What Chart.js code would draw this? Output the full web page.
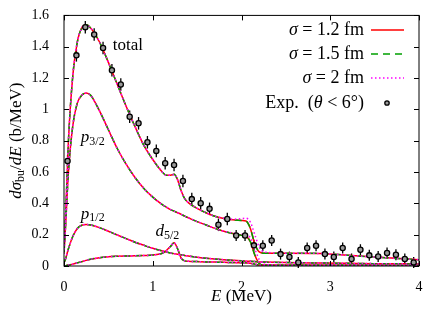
<!DOCTYPE html>
<html>
<head>
<meta charset="utf-8">
<script src="https://cdn.jsdelivr.net/npm/chart.js@4"></script>
<style>
  body { margin: 0; background: #fff; }
  #wrap { width: 436px; height: 309px; }
</style>
</head>
<body>
<div id="wrap"><canvas id="bu-chart"></canvas></div>
<script>
// energy grid of the calculated curves (MeV)
const energy = [0, 0.02, 0.05, 0.1, 0.15, 0.2, 0.25, 0.3, 0.4, 0.5, 0.6, 0.7, 0.8, 0.9, 1.0, 1.1, 1.15, 1.2, 1.24, 1.28, 1.32, 1.36, 1.4, 1.5, 1.6, 1.7, 1.8, 1.9, 2.0, 2.05, 2.1, 2.15, 2.2, 2.25, 2.5, 2.9, 3.2, 3.5, 4.0];

// sigma = 1.2 fm and 1.5 fm (practically identical)
const totalCurve = [0.1, 0.35, 0.8, 1.22, 1.43, 1.52, 1.54, 1.52, 1.43, 1.3, 1.16, 1.02, 0.89, 0.77, 0.68, 0.605, 0.58, 0.58, 0.585, 0.55, 0.48, 0.43, 0.405, 0.368, 0.34, 0.318, 0.303, 0.295, 0.29, 0.287, 0.24, 0.14, 0.09, 0.082, 0.082, 0.08, 0.068, 0.057, 0.04];
const p32Curve = [0.08, 0.28, 0.6, 0.9, 1.04, 1.09, 1.105, 1.09, 0.99, 0.87, 0.75, 0.65, 0.565, 0.495, 0.44, 0.395, 0.377, 0.36, 0.35, 0.34, 0.33, 0.318, 0.308, 0.283, 0.262, 0.24, 0.222, 0.207, 0.196, 0.19, 0.155, 0.07, 0.015, 0.006, 0.005, 0.005, 0.004, 0.004, 0.003];
const p12Curve = [0.02, 0.05, 0.11, 0.19, 0.24, 0.26, 0.265, 0.262, 0.245, 0.222, 0.198, 0.175, 0.152, 0.132, 0.113, 0.097, 0.09, 0.083, 0.079, 0.075, 0.071, 0.067, 0.064, 0.056, 0.05, 0.045, 0.04, 0.036, 0.033, 0.031, 0.03, 0.028, 0.026, 0.025, 0.022, 0.019, 0.017, 0.015, 0.013];
const d52Curve = [0, 0.002, 0.006, 0.012, 0.02, 0.028, 0.036, 0.043, 0.053, 0.059, 0.062, 0.064, 0.065, 0.067, 0.07, 0.08, 0.097, 0.125, 0.148, 0.11, 0.05, 0.033, 0.03, 0.028, 0.026, 0.025, 0.024, 0.022, 0.021, 0.02, 0.018, 0.012, 0.006, 0.005, 0.005, 0.005, 0.004, 0.004, 0.003];

// sigma = 2 fm differs only near the 2.1 MeV edge
const totalCurveS2 = [0.1, 0.35, 0.8, 1.22, 1.43, 1.52, 1.54, 1.52, 1.43, 1.3, 1.16, 1.02, 0.89, 0.77, 0.68, 0.605, 0.58, 0.58, 0.585, 0.55, 0.48, 0.43, 0.405, 0.368, 0.34, 0.318, 0.305, 0.299, 0.302, 0.305, 0.28, 0.2, 0.12, 0.09, 0.082, 0.08, 0.068, 0.057, 0.04];
const p32CurveS2 = [0.08, 0.28, 0.6, 0.9, 1.04, 1.09, 1.105, 1.09, 0.99, 0.87, 0.75, 0.65, 0.565, 0.495, 0.44, 0.395, 0.377, 0.36, 0.35, 0.34, 0.33, 0.318, 0.308, 0.283, 0.262, 0.24, 0.222, 0.21, 0.202, 0.2, 0.18, 0.11, 0.04, 0.012, 0.005, 0.005, 0.004, 0.004, 0.003];

// experimental points (theta < 6 deg)
const expEnergy = [0.04, 0.14, 0.24, 0.34, 0.44, 0.54, 0.64, 0.74, 0.84, 0.94, 1.04, 1.14, 1.24, 1.34, 1.44, 1.54, 1.64, 1.74, 1.84, 1.94, 2.04, 2.14, 2.24, 2.34, 2.44, 2.54, 2.64, 2.74, 2.84, 2.94, 3.04, 3.14, 3.24, 3.34, 3.44, 3.54, 3.64, 3.74, 3.84, 3.94];
const expValue = [0.67, 1.345, 1.525, 1.478, 1.392, 1.25, 1.159, 0.953, 0.911, 0.79, 0.735, 0.656, 0.645, 0.543, 0.427, 0.401, 0.365, 0.263, 0.3, 0.195, 0.195, 0.132, 0.129, 0.163, 0.076, 0.057, 0.023, 0.115, 0.129, 0.076, 0.057, 0.115, 0.045, 0.104, 0.068, 0.061, 0.083, 0.072, 0.045, 0.023];
const expError = [0.04, 0.04, 0.04, 0.04, 0.04, 0.04, 0.04, 0.04, 0.04, 0.04, 0.04, 0.04, 0.04, 0.04, 0.04, 0.04, 0.04, 0.04, 0.04, 0.035, 0.035, 0.035, 0.035, 0.035, 0.035, 0.035, 0.035, 0.035, 0.035, 0.035, 0.035, 0.035, 0.035, 0.035, 0.035, 0.035, 0.035, 0.035, 0.035, 0.035];

const xTicks = [0, 1, 2, 3, 4];
const yTicks = [0, 0.2, 0.4, 0.6, 0.8, 1, 1.2, 1.4, 1.6];

const sigmaValues = ['1.2', '1.5', '2'];
const seriesColors = ['#ff0000', '#00a000', '#ff00ff'];
const seriesDash = [[], [7, 5], [1.5, 2.5]];

const serif = '"Liberation Serif", "DejaVu Serif", serif';

function points(xs, ys) {
  return xs.map((x, i) => ({ x: x, y: ys[i] }));
}

const curveSets = [
  [totalCurve, p32Curve, p12Curve, d52Curve],
  [totalCurve, p32Curve, p12Curve, d52Curve],
  [totalCurveS2, p32CurveS2, p12Curve, d52Curve],
];

const datasets = [{
  type: 'scatter',
  data: points(expEnergy, expValue),
  pointRadius: 2.6,
  pointBorderWidth: 1.3,
  borderColor: '#000',
  backgroundColor: '#999',
  order: 0,
}];

// red drawn first (bottom), magenta dots last (top)
curveSets.forEach((set, s) => {
  set.forEach((curve) => {
    datasets.push({
      type: 'line',
      data: points(energy, curve),
      borderColor: seriesColors[s],
      borderDash: seriesDash[s],
      borderWidth: 1.5,
      pointRadius: 0,
      cubicInterpolationMode: 'monotone',
      fill: false,
      order: 3 - s,
    });
  });
});

// draw text pieces in a row; each piece {t, f, dy}
function textRun(ctx, parts, x, y, align) {
  let w = 0;
  parts.forEach((p) => { ctx.font = p.f; w += ctx.measureText(p.t).width; });
  let cx = align === 'center' ? x - w / 2 : align === 'right' ? x - w : x;
  ctx.textAlign = 'left';
  ctx.textBaseline = 'middle';
  parts.forEach((p) => {
    ctx.font = p.f;
    ctx.fillText(p.t, cx, y + (p.dy || 0));
    cx += ctx.measureText(p.t).width;
  });
}

const decor = {
  id: 'decor',
  beforeDatasetsDraw(chart) {
    const ctx = chart.ctx;
    const xs = chart.scales.x, ys = chart.scales.y;
    ctx.save();
    ctx.strokeStyle = '#000';
    ctx.lineWidth = 1.3;
    expEnergy.forEach((e, i) => {
      const px = xs.getPixelForValue(e);
      ctx.beginPath();
      ctx.moveTo(px, ys.getPixelForValue(expValue[i] - expError[i]));
      ctx.lineTo(px, ys.getPixelForValue(expValue[i] + expError[i]));
      ctx.stroke();
    });
    ctx.restore();
  },
  afterDraw(chart) {
    const ctx = chart.ctx;
    const a = chart.chartArea;
    const xs = chart.scales.x, ys = chart.scales.y;
    ctx.save();
    // frame and inward ticks on all sides
    ctx.strokeStyle = '#000';
    ctx.lineWidth = 1;
    ctx.strokeRect(a.left, a.top, a.right - a.left, a.bottom - a.top);
    ctx.beginPath();
    xTicks.forEach((v) => {
      const px = Math.round(xs.getPixelForValue(v)) + 0.5;
      ctx.moveTo(px, a.bottom); ctx.lineTo(px, a.bottom - 5);
      ctx.moveTo(px, a.top); ctx.lineTo(px, a.top + 5);
    });
    yTicks.forEach((v) => {
      const py = Math.round(ys.getPixelForValue(v)) + 0.5;
      ctx.moveTo(a.left, py); ctx.lineTo(a.left + 5, py);
      ctx.moveTo(a.right, py); ctx.lineTo(a.right - 5, py);
    });
    ctx.stroke();

    ctx.fillStyle = '#000';
    const big = '17px ' + serif, bigI = 'italic 17px ' + serif, sub = '12px ' + serif;
    const key = '18px ' + serif, keyI = 'italic 18px ' + serif;

    // curve labels
    textRun(ctx, [{ t: 'total', f: big }], xs.getPixelForValue(0.55), ys.getPixelForValue(1.41), 'left');
    textRun(ctx, [{ t: 'p', f: bigI }, { t: '3/2', f: sub, dy: 4 }], xs.getPixelForValue(0.19), ys.getPixelForValue(0.82), 'left');
    textRun(ctx, [{ t: 'p', f: bigI }, { t: '1/2', f: sub, dy: 4 }], xs.getPixelForValue(0.19), ys.getPixelForValue(0.33), 'left');
    textRun(ctx, [{ t: 'd', f: bigI }, { t: '5/2', f: sub, dy: 4 }], xs.getPixelForValue(1.03), ys.getPixelForValue(0.22), 'left');

    // axis titles
    textRun(ctx, [{ t: 'E', f: bigI }, { t: ' (MeV)', f: big }], (a.left + a.right) / 2, 297, 'center');
    ctx.save();
    ctx.translate(17, (a.top + a.bottom) / 2);
    ctx.rotate(-Math.PI / 2);
    textRun(ctx, [
      { t: 'dσ', f: bigI }, { t: 'bu', f: sub, dy: 4 },
      { t: '/', f: big }, { t: 'dE', f: bigI }, { t: ' (b/MeV)', f: big },
    ], 0, 0, 'center');
    ctx.restore();

    // key
    const keyText = 364, lineL = 371, lineR = 404;
    const rowY = [30, 54, 78, 103];
    sigmaValues.forEach((sv, i) => {
      textRun(ctx, [{ t: 'σ', f: keyI }, { t: ' = ' + sv + ' fm', f: key }], keyText, rowY[i], 'right');
      ctx.strokeStyle = seriesColors[i];
      ctx.setLineDash(seriesDash[i]);
      ctx.lineWidth = 1.5;
      ctx.beginPath();
      ctx.moveTo(lineL, rowY[i]);
      ctx.lineTo(lineR, rowY[i]);
      ctx.stroke();
    });
    ctx.setLineDash([]);
    ctx.fillStyle = '#000';
    textRun(ctx, [{ t: 'Exp.  (', f: key }, { t: 'θ', f: keyI }, { t: ' < 6°)', f: key }], keyText, rowY[3], 'right');
    ctx.strokeStyle = '#000';
    ctx.fillStyle = '#999';
    ctx.lineWidth = 1.3;
    ctx.beginPath();
    ctx.arc(387, rowY[3], 2.2, 0, Math.PI * 2);
    ctx.fill();
    ctx.stroke();
    ctx.restore();
  },
};

new Chart(document.getElementById('bu-chart'), {
  data: { datasets },
  options: {
    responsive: true,
    maintainAspectRatio: false,
    animation: false,
    layout: { padding: { top: 15, right: 17, left: 0, bottom: 0 } },
    plugins: { legend: { display: false }, tooltip: { enabled: false } },
    scales: {
      x: {
        type: 'linear',
        min: 0,
        max: 4,
        grid: { display: false },
        border: { display: false },
        ticks: {
          stepSize: 1,
          padding: 5,
          color: '#000',
          font: { family: serif, size: 14 },
        },
        afterFit(scale) { scale.height = 43; },
      },
      y: {
        min: 0,
        max: 1.6,
        grid: { display: false },
        border: { display: false },
        ticks: {
          stepSize: 0.2,
          padding: 7,
          color: '#000',
          font: { family: serif, size: 14 },
          callback: (v) => String(Number(v.toFixed(1))),
        },
        afterFit(scale) { scale.width = 64; },
      },
    },
  },
  plugins: [decor],
});
</script>
</body>
</html>
